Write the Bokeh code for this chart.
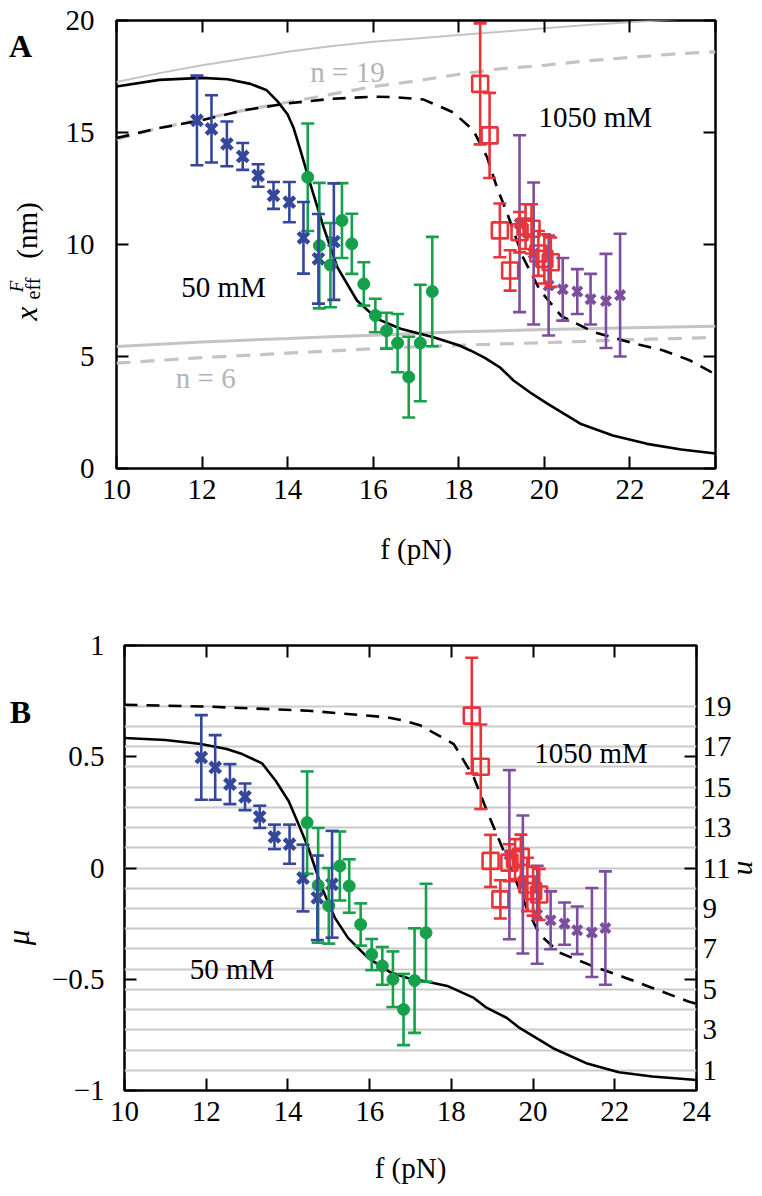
import numpy as np
from bokeh.plotting import figure
from bokeh.models import (Range1d, LinearAxis, FixedTicker, Whisker, TeeHead,
                          ColumnDataSource, Label, Grid)
from bokeh.layouts import column, row
from bokeh.embed import file_html
from bokeh.resources import INLINE

# ---------------- data ----------------
x_ticks = [10, 12, 14, 16, 18, 20, 22, 24]
yA_ticks = [0, 5, 10, 15, 20]
yB_ticks = [-1, -0.5, 0, 0.5, 1]
n_lines = list(range(1, 20))
n_labels = [1, 3, 5, 7, 9, 11, 13, 15, 17, 19]

# Panel A theory curves
fA_solid = [10, 11, 12, 12.6, 13.13, 13.5, 13.76, 14.0, 14.14, 14.3, 14.53, 14.84, 15.16,
            15.62, 16.09, 16.64, 17.41, 18.0, 18.27, 18.6, 18.97, 19.28, 19.7, 20.07,
            20.84, 21.6, 22.4, 23.2, 24]
xA_solid = [17.05, 17.35, 17.44, 17.38, 17.17, 16.9, 16.4, 15.8, 15.2, 14.2, 12.7, 10.77,
            8.99, 7.5, 6.68, 6.24, 5.86, 5.5, 5.27, 4.95, 4.5, 3.93, 3.35, 2.9, 2.0, 1.47,
            1.1, 0.85, 0.67]
fA_dash = [10, 11, 12, 13, 14, 15, 16, 16.5, 17.18, 17.87, 18.34, 18.66, 18.9, 19.13,
           19.5, 19.9, 20.4, 21.14, 22.0, 22.78, 23.41, 24]
xA_dash = [14.75, 15.2, 15.55, 16.0, 16.3, 16.5, 16.6, 16.58, 16.47, 15.9, 15.1, 13.9,
           12.5, 11.4, 9.43, 7.95, 6.8, 6.1, 5.63, 5.27, 4.82, 4.2]
f_ref = [10, 11, 12, 13, 14, 15, 16, 17, 18, 19, 20, 21, 22, 23, 24]
n19_solid = [17.25, 17.65, 18.0, 18.3, 18.6, 18.85, 19.05, 19.2, 19.35, 19.5, 19.65,
             19.8, 19.92, 20.05, 20.15]
n19_dash = [14.7, 15.2, 15.6, 16.0, 16.35, 16.7, 17.05, 17.3, 17.6, 17.85, 18.0, 18.2,
            18.35, 18.5, 18.6]
n6_solid = [5.45, 5.55, 5.65, 5.73, 5.8, 5.88, 5.95, 6.03, 6.1, 6.15, 6.2, 6.24, 6.28,
            6.32, 6.35]
n6_dash = [4.7, 4.83, 4.95, 5.05, 5.15, 5.25, 5.35, 5.43, 5.5, 5.56, 5.62, 5.68, 5.75,
           5.8, 5.85]

# Panel B theory curves
fB_solid = [10, 11, 11.87, 12.5, 12.88, 13.37, 13.7, 14.02, 14.26, 14.5, 14.83, 15.15,
            15.47, 15.96, 16.52, 16.93, 17.5, 17.9, 18.55, 18.87, 19.36, 19.68, 20.49,
            21.3, 22.1, 22.92, 23.93, 24]
muB_solid = [0.584, 0.575, 0.557, 0.535, 0.512, 0.47, 0.392, 0.30, 0.197, 0.09, -0.089,
             -0.224, -0.314, -0.404, -0.47, -0.494, -0.515, -0.53, -0.584, -0.629,
             -0.674, -0.72, -0.81, -0.877, -0.918, -0.937, -0.952, -0.953]
fB_dash = [10, 12.07, 14.5, 16.44, 16.85, 17.25, 18.06, 18.55, 18.87, 19.11, 19.52,
           19.84, 20.16, 20.65, 21.46, 22.27, 22.92, 23.8, 24]
muB_dash = [0.734, 0.725, 0.707, 0.677, 0.662, 0.64, 0.557, 0.407, 0.257, 0.152, -0.028,
            -0.179, -0.299, -0.381, -0.441, -0.494, -0.539, -0.6, -0.61]

# Measured data (50 mM: blue, green; 1050 mM: red, purple)
blue_f = [11.88, 12.22, 12.58, 12.95, 13.31, 13.67, 14.04, 14.37, 14.72, 15.08]
blue_x = [15.54, 15.16, 14.49, 13.93, 13.08, 12.19, 11.89, 10.3, 9.36, 10.13]
blue_xe = [2.0, 1.5, 1.0, 0.6, 0.5, 0.6, 0.9, 1.6, 2.0, 2.6]
blue_mu = [0.497, 0.452, 0.377, 0.32, 0.23, 0.14, 0.107, -0.045, -0.134, -0.073]
blue_mue = [0.19, 0.145, 0.09, 0.06, 0.05, 0.055, 0.088, 0.15, 0.19, 0.24]

green_f = [14.47, 14.74, 15.0, 15.27, 15.5, 15.78, 16.05, 16.31, 16.57, 16.83, 17.1, 17.38]
green_x = [13.0, 9.95, 9.08, 11.07, 10.03, 8.24, 6.83, 6.15, 5.6, 4.08, 5.6, 7.9]
green_xe = [2.4, 2.8, 1.88, 1.67, 1.34, 0.97, 0.75, 0.8, 1.3, 1.8, 2.6, 2.44]
green_mu = [0.204, -0.078, -0.17, 0.009, -0.081, -0.254, -0.389, -0.44, -0.5, -0.636,
            -0.506, -0.291]
green_mue = [0.23, 0.258, 0.17, 0.155, 0.12, 0.095, 0.07, 0.085, 0.125, 0.16, 0.235, 0.22]

red_f = [18.5, 18.72, 18.96, 19.2, 19.42, 19.56, 19.7, 19.86, 20.0, 20.15]
red_x = [17.17, 14.87, 10.63, 8.84, 10.55, 10.8, 10.7, 9.6, 9.36, 9.21]
red_xe = [2.7, 1.9, 1.2, 0.9, 0.9, 1.0, 1.1, 1.0, 1.1, 1.1]
red_mu = [0.685, 0.455, 0.032, -0.141, 0.024, 0.04, 0.05, -0.074, -0.104, -0.119]
red_mue = [0.26, 0.19, 0.117, 0.086, 0.083, 0.09, 0.1, 0.12, 0.11, 0.115]

purple_f = [19.42, 19.75, 20.1, 20.43, 20.77, 21.08, 21.44, 21.77]
purple_x = [10.93, 9.6, 8.17, 8.0, 7.9, 7.56, 7.48, 7.74]
purple_xe = [3.95, 3.17, 2.23, 1.4, 1.0, 1.13, 2.1, 2.74]
purple_mu = [0.06, -0.074, -0.21, -0.235, -0.25, -0.28, -0.29, -0.27]
purple_mue = [0.38, 0.31, 0.22, 0.13, 0.095, 0.107, 0.2, 0.255]

# ---------------- style ----------------
FONT = "'Liberation Serif', serif"
FS = "29px"
BLUE = "#34479b"
GREEN = "#17a04b"
RED = "#e8353b"
PURPLE = "#7b4f9e"
GRAY = "#c4c4c4"
GRIDGRAY = "#cacaca"
GUTTER = 48
HA = 20 + 448 + 110
HB = 67 + 445 + 106


def style_axis(ax, standoff, hide_labels=False, ticks=None):
    ax.axis_line_color = None
    ax.major_tick_in = 12
    ax.major_tick_out = 0
    ax.minor_tick_line_color = None
    ax.major_tick_line_width = 2
    ax.major_tick_line_color = "black"
    ax.major_label_text_font = FONT
    ax.major_label_text_font_size = FS
    ax.major_label_text_color = "black"
    ax.major_label_standoff = standoff
    if hide_labels:
        ax.major_label_overrides = {t: "" for t in ticks}
        ax.major_label_text_font_size = "0px"
    ax.axis_label_text_font = FONT
    ax.axis_label_text_font_size = FS
    ax.axis_label_text_color = "black"
    ax.axis_label_text_font_style = "normal"


def base_fig(fw, fh, yr, mbl, mbt, mbr, mbb):
    p = figure(frame_width=fw, frame_height=fh, x_range=Range1d(10, 24), y_range=yr,
               min_border_left=mbl, min_border_top=mbt, min_border_right=mbr,
               min_border_bottom=mbb, output_backend="svg", toolbar_location=None)
    p.xgrid.visible = False
    p.ygrid.visible = False
    p.outline_line_color = "black"
    p.outline_line_width = 2.5
    p.outline_line_alpha = 1.0
    p.background_fill_color = "white"
    p.border_fill_color = "white"
    return p


def gutter_fig(h):
    # narrow label strip left of a panel; coordinates are pixels from its top-left
    g = figure(frame_width=GUTTER, frame_height=h, x_range=Range1d(0, GUTTER),
               y_range=Range1d(h, 0), x_axis_type=None, y_axis_type=None,
               min_border=0, output_backend="svg", toolbar_location=None)
    g.xgrid.visible = False
    g.ygrid.visible = False
    g.outline_line_color = None
    g.background_fill_color = "white"
    g.border_fill_color = "white"
    return g


def add_series(p, f, v, e, color, marker, size, lw, fill=True):
    f = np.asarray(f, float)
    v = np.asarray(v, float)
    e = np.asarray(e, float)
    src = ColumnDataSource(dict(f=f, v=v, lo=v - e, hi=v + e))
    w = Whisker(source=src, base="f", lower="lo", upper="hi", dimension="height",
                line_color=color, line_width=2.6, level="glyph",
                upper_head=TeeHead(size=13, line_color=color, line_width=2.6),
                lower_head=TeeHead(size=13, line_color=color, line_width=2.6))
    p.add_layout(w)
    p.scatter("f", "v", source=src, marker=marker, size=size, line_width=lw,
              line_color=color, fill_color=color if fill else None)


def glabel(g, x, y, text, size, style="normal", angle=0.0):
    g.add_layout(Label(x=x, y=y, text=text, text_font=FONT, text_font_size=size,
                       text_font_style=style, text_color="black", text_align="center",
                       text_baseline="middle", angle=angle))


# ================= Panel A =================
pA = base_fig(599, 448, Range1d(0, 20), 68, 20, 39, 110)
pA.xaxis.ticker = FixedTicker(ticks=x_ticks)
pA.yaxis.ticker = FixedTicker(ticks=yA_ticks)
style_axis(pA.xaxis[0], 11)
style_axis(pA.yaxis[0], 22)
pA.xaxis[0].axis_label = "f (pN)"
pA.xaxis[0].axis_label_standoff = 31
topA = LinearAxis(ticker=FixedTicker(ticks=x_ticks))
style_axis(topA, 0, hide_labels=True, ticks=x_ticks)
pA.add_layout(topA, "above")
rightA = LinearAxis(ticker=FixedTicker(ticks=yA_ticks))
style_axis(rightA, 0, hide_labels=True, ticks=yA_ticks)
pA.add_layout(rightA, "right")

pA.line(f_ref, n19_solid, line_color=GRAY, line_width=2)
pA.line(f_ref, n19_dash, line_color=GRAY, line_width=3.2, line_dash="14 10")
pA.line(f_ref, n6_solid, line_color=GRAY, line_width=3)
pA.line(f_ref, n6_dash, line_color=GRAY, line_width=3.2, line_dash="14 10")
pA.line(fA_solid, xA_solid, line_color="black", line_width=2.6)
pA.line(fA_dash, xA_dash, line_color="black", line_width=2.6, line_dash="13 9")

add_series(pA, green_f, green_x, green_xe, GREEN, "circle", 12, 1)
add_series(pA, blue_f, blue_x, blue_xe, BLUE, "x", 15, 4.5)
add_series(pA, purple_f, purple_x, purple_xe, PURPLE, "x", 13, 4)
add_series(pA, red_f, red_x, red_xe, RED, "square", 16, 2.6, fill=False)

for txt, x, y, col in [("n = 19", 15.4, 17.7, "#b4b4b4"), ("n  = 6", 12.17, 4.02, "#b4b4b4"),
                       ("50 mM", 12.5, 8.12, "black"), ("1050 mM", 21.19, 15.71, "black")]:
    pA.add_layout(Label(x=x, y=y, text=txt, text_font=FONT, text_font_size=FS,
                        text_color=col, text_align="center", text_baseline="middle"))

gA = gutter_fig(HA)
glabel(gA, 20, 25, "A", "32px", "bold")
glabel(gA, 26, 293, "x", "31px", "italic", np.pi / 2)
glabel(gA, 32, 268, "eff", "20px", "normal", np.pi / 2)
glabel(gA, 16, 266, "F", "19px", "italic", np.pi / 2)
glabel(gA, 26, 210, "(nm)", FS, "normal", np.pi / 2)

# ================= Panel B =================
pB = base_fig(572, 445, Range1d(-1, 1), 66, 67, 5, 106)
pB.extra_y_ranges = {"n": Range1d(0, 22)}
pB.xaxis.ticker = FixedTicker(ticks=x_ticks)
pB.yaxis.ticker = FixedTicker(ticks=yB_ticks)
style_axis(pB.xaxis[0], 11)
style_axis(pB.yaxis[0], 20)
pB.xaxis[0].axis_label = "f (pN)"
pB.xaxis[0].axis_label_standoff = 28
topB = LinearAxis(ticker=FixedTicker(ticks=x_ticks))
style_axis(topB, 0, hide_labels=True, ticks=x_ticks)
pB.add_layout(topB, "above")
rightB = LinearAxis(ticker=FixedTicker(ticks=[-0.5, 0, 0.5]))
style_axis(rightB, 0, hide_labels=True, ticks=[-0.5, 0, 0.5])
pB.add_layout(rightB, "right")
nax = LinearAxis(y_range_name="n", ticker=FixedTicker(ticks=n_labels))
style_axis(nax, 6)
nax.major_tick_line_color = None
nax.axis_label = "n"
nax.axis_label_text_font_style = "italic"
nax.axis_label_standoff = -3
pB.add_layout(nax, "right")

pB.add_layout(Grid(dimension=1, ticker=FixedTicker(ticks=n_lines), y_range_name="n",
                   grid_line_color=GRIDGRAY, grid_line_width=2))

pB.line(fB_solid, muB_solid, line_color="black", line_width=2.6)
pB.line(fB_dash, muB_dash, line_color="black", line_width=2.6, line_dash="13 9")

add_series(pB, green_f, green_mu, green_mue, GREEN, "circle", 12, 1)
add_series(pB, blue_f, blue_mu, blue_mue, BLUE, "x", 15, 4.5)
add_series(pB, purple_f, purple_mu, purple_mue, PURPLE, "x", 13, 4)
add_series(pB, red_f, red_mu, red_mue, RED, "square", 16, 2.6, fill=False)

for txt, x, y in [("50 mM", 12.63, -0.455), ("1050 mM", 21.42, 0.518)]:
    pB.add_layout(Label(x=x, y=y, text=txt, text_font=FONT, text_font_size=FS,
                        text_color="black", text_align="center", text_baseline="middle"))

gB = gutter_fig(HB)
glabel(gB, 20, 66, "B", "32px", "bold")
glabel(gB, 18, 292, "μ", "31px", "italic", np.pi / 2)

layout = column(row(gA, pA, spacing=0), row(gB, pB, spacing=0), spacing=0)
open("out.html", "w").write(file_html(layout, INLINE))
